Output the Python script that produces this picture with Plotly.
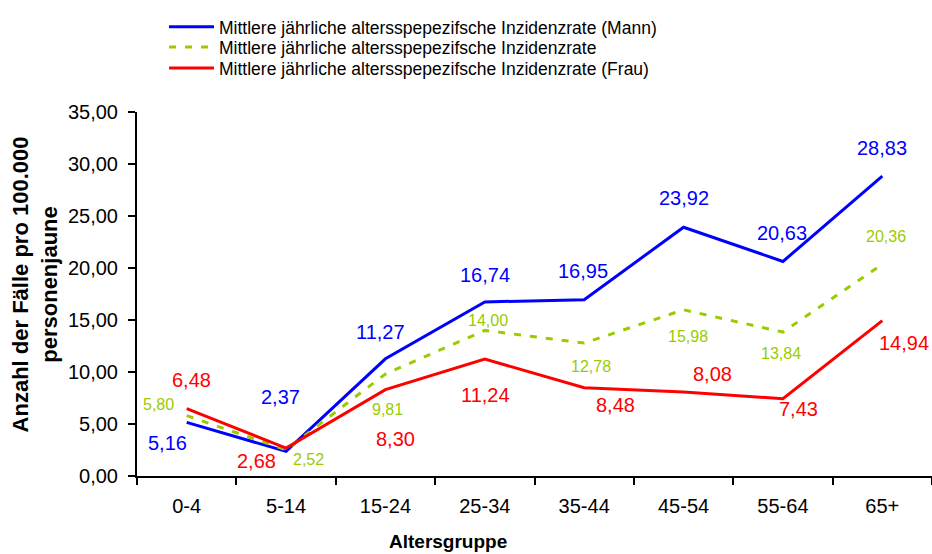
import plotly.graph_objects as go

categories = ["0-4", "5-14", "15-24", "25-34", "35-44", "45-54", "55-64", "65+"]
mann = [5.16, 2.37, 11.27, 16.74, 16.95, 23.92, 20.63, 28.83]
gesamt = [5.80, 2.52, 9.81, 14.00, 12.78, 15.98, 13.84, 20.36]
frau = [6.48, 2.68, 8.30, 11.24, 8.48, 8.08, 7.43, 14.94]
y_ticks = [0, 5, 10, 15, 20, 25, 30, 35]
y_ticktext = ["0,00", "5,00", "10,00", "15,00", "20,00", "25,00", "30,00", "35,00"]

names = [
    "Mittlere jährliche altersspepezifsche Inzidenzrate (Mann)",
    "Mittlere jährliche altersspepezifsche Inzidenzrate",
    "Mittlere jährliche altersspepezifsche Inzidenzrate (Frau)",
]

BLUE = "#0000FF"
GREEN = "#99CC00"
RED = "#FF0000"
FONT = "Arial, Liberation Sans, sans-serif"

# label pixel offsets (dx right, dy down) relative to each point
off_mann = [(-19, 21), (-6, -54), (-5, -27), (0, -27), (-1, -29), (0, -29), (-1, -28), (0, -28)]
off_gesamt = [(-28, -11), (22, 10), (2, 36), (3, -10), (7, 23), (4, 27), (-2, 21), (4, -28)]
off_frau = [(5, -29), (-30, 13), (10, 49), (1, 36), (31, 17), (29, -18), (16, 10), (22, 22)]

fig = go.Figure()
fig.add_trace(go.Scatter(x=categories, y=mann, mode="lines", name=names[0],
                         line=dict(color=BLUE, width=3), legend="legend"))
fig.add_trace(go.Scatter(x=categories, y=gesamt, mode="lines", name=names[1],
                         line=dict(color=GREEN, width=3, dash="7px,9px"), legend="legend2"))
fig.add_trace(go.Scatter(x=categories, y=frau, mode="lines", name=names[2],
                         line=dict(color=RED, width=3), legend="legend3"))


def fmt(v):
    return f"{v:.2f}".replace(".", ",")


annotations = []
for series, offs, color, size in [(mann, off_mann, BLUE, 20), (gesamt, off_gesamt, GREEN, 16),
                                  (frau, off_frau, RED, 20)]:
    for cat, v, (dx, dy) in zip(categories, series, offs):
        annotations.append(dict(x=cat, y=v, text=fmt(v), showarrow=False,
                                xshift=dx, yshift=-dy, xanchor="center", yanchor="middle",
                                font=dict(color=color, size=size, family=FONT)))

annotations.append(dict(x=-0.128, y=0.527, xref="paper", yref="paper", showarrow=False,
                        xanchor="center", yanchor="middle",
                        textangle=-90, text="<b>Anzahl der Fälle pro 100.000<br>personenjaune</b>",
                        font=dict(size=22, color="black", family=FONT)))
annotations.append(dict(x=0.391, y=-0.179, xref="paper", yref="paper", showarrow=False,
                        xanchor="center", yanchor="middle",
                        text="<b>Altersgruppe</b>",
                        font=dict(size=19, color="black", family=FONT)))

leg_common = dict(x=0.034, xanchor="left", yanchor="top",
                  font=dict(size=17.5, family=FONT), bgcolor="rgba(0,0,0,0)",
                  itemwidth=45)

fig.update_layout(
    width=932, height=554,
    margin=dict(l=137, r=0, t=112, b=78),
    paper_bgcolor="white", plot_bgcolor="white",
    font=dict(family=FONT, color="black", size=18),
    showlegend=True,
    legend=dict(y=1.283, **leg_common),
    legend2=dict(y=1.228, **leg_common),
    legend3=dict(y=1.1703, **leg_common),
    annotations=annotations,
)
fig.update_xaxes(range=[-0.5, 7.5], showline=True, linecolor="black", linewidth=2,
                 ticks="outside", tickson="boundaries", ticklen=7, tickwidth=2,
                 tickcolor="black", showgrid=False, zeroline=False,
                 ticklabelstandoff=11, tickfont=dict(size=20))
fig.update_yaxes(range=[0, 35], tickvals=y_ticks, ticktext=y_ticktext,
                 showline=True, linecolor="black", linewidth=2,
                 ticks="outside", ticklen=7, tickwidth=2, tickcolor="black",
                 showgrid=False, zeroline=False, ticklabelstandoff=6,
                 tickfont=dict(size=20))

fig.write_html("out.html", post_script="document.body.style.margin='0';",
               config={"displayModeBar": False})
